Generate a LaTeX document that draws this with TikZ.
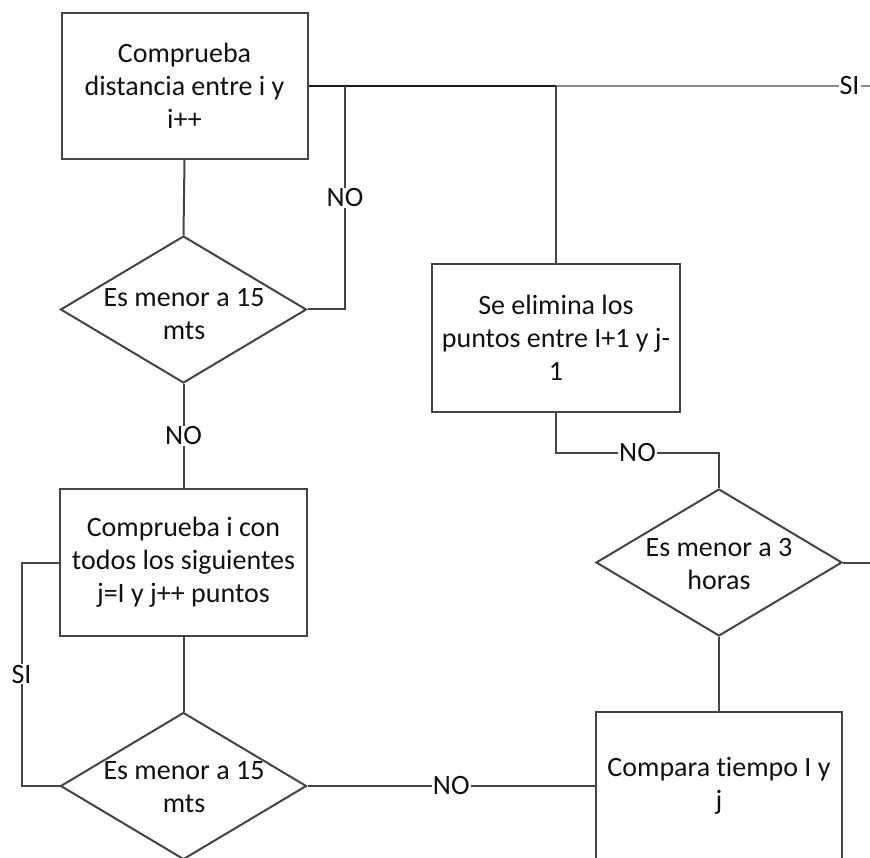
\documentclass[tikz,border=0pt]{standalone}
\usepackage{fontspec}
\setmainfont{Carlito}[Ligatures=NoCommon]
\usetikzlibrary{shapes.geometric}
\definecolor{edge}{HTML}{444444}
\definecolor{darkedge}{HTML}{1A1A1A}
\definecolor{lightedge}{HTML}{8C8C8C}
\definecolor{ink}{HTML}{111111}
\begin{document}
\begin{tikzpicture}[x=1pt,y=-1pt,
  every node/.style={font=\fontsize{28}{33}\selectfont, text=ink},
  procbox/.style={draw=edge, line width=2pt, align=center,
    minimum width=246pt, minimum height=146pt, inner sep=0pt},
  decision/.style={draw=edge, line width=2pt, diamond,
    minimum width=246pt, minimum height=147pt, inner sep=0pt},
  decisiontext/.style={align=center, inner sep=0pt},
  link/.style={draw=edge, line width=2pt},
  tag/.style={fill=white, inner sep=1pt}]
  \useasboundingbox (0,0) rectangle (870,858);
  \clip (0,0) rectangle (870,858);

  % process boxes
  \node[procbox] (b1) at (184.5,86) {Comprueba\\distancia entre i y\\i++};
  \node[procbox, minimum width=248pt, minimum height=148pt] (se) at (556,338)
    {Se elimina los\\puntos entre I+1 y j-\\1};
  \node[procbox, minimum width=247pt, minimum height=147pt] (b2) at (183.5,562.5)
    {Comprueba i con\\todos los siguientes\\j=I y j++ puntos};
  \node[procbox, minimum height=148pt] (cmp) at (719,786) {Compara tiempo I y\\j};

  % decisions
  \node[decision] (d1) at (183.5,309.5) {};
  \node[decisiontext] (d1t) at (184,314) {Es menor a 15\\mts};
  \node[decision] (d2) at (183.5,786) {};
  \node[decisiontext] (d2t) at (184,787) {Es menor a 15\\mts};
  \node[decision] (d3) at (719,562.5) {};
  \node[decisiontext] (d3t) at (719,564) {Es menor a 3\\horas};

  % junctions on the top line
  \coordinate (jno) at (345,86);
  \coordinate (jse) at (se.north |- b1.east);
  \coordinate (tr) at (870,86);
  \coordinate (d3r) at (870,562.5);

  % top line: dark up to the junction above "Se elimina", lighter beyond
  \draw[draw=darkedge, line width=2pt] (b1.east) -- (jse);
  \draw[draw=lightedge, line width=2pt] (jse) -- node[tag, pos=0.935] {SI} (tr);

  \draw[link] (b1.south) -- (d1.north);
  \draw[link] (d1.east) -| node[tag, pos=0.75] {NO} (jno);
  \draw[link] (jse) -- (se.north);
  \draw[link] (d1.south) -- node[tag] {NO} (b2.north);
  \draw[link] (se.south) -- ++(0,40) -| node[tag, pos=0.25] {NO} (d3.north);
  \draw[link] (b2.south) -- (d2.north);
  \draw[link] (d2.west) -- ++(-38,0) |- node[tag, pos=0.25] {SI} (b2.west);
  \draw[link] (d2.east) -- node[tag] {NO} (cmp.west);
  \draw[link] (d3.south) -- (cmp.north);
  \draw[link] (d3.east) -- (d3r);
\end{tikzpicture}
\end{document}
